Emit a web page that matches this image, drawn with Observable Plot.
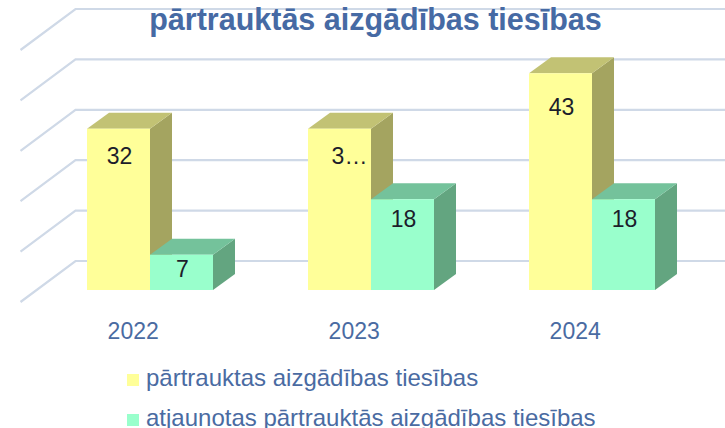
<!DOCTYPE html>
<html>
<head>
<meta charset="utf-8">
<script src="https://cdn.jsdelivr.net/npm/d3@7"></script>
<script src="https://cdn.jsdelivr.net/npm/@observablehq/plot@0.6"></script>
<style>
  body { margin: 0; background: #fff; font-family: "Liberation Sans", Arial, sans-serif; }
  #wrap { position: relative; width: 725px; height: 428px; overflow: hidden; background: #fff; }
  #chart { position: absolute; left: 0; top: 0; }
  #title { position: absolute; left: 0; width: 751px; top: 4px; text-align: center;
           font: bold 30.5px "Liberation Sans", Arial, sans-serif; line-height: 30px; color: #466aa4; white-space: nowrap; }
  .lg { position: absolute; left: 127px; font: 24px "Liberation Sans", Arial, sans-serif; line-height: 24px;
        color: #4a6ba2; white-space: nowrap; display: flex; align-items: center; }
  .sw { width: 12px; height: 12px; margin-right: 7px; margin-top: 3px; }
</style>
</head>
<body>
<div id="wrap">
  <div id="chart"></div>
  <div id="title"></div>
  <div id="legend"></div>
</div>
<script>
// ---- data ----
const years = ["2022", "2023", "2024"];
const seriesNames = ["pārtrauktas aizgādības tiesības", "atjaunotas pārtrauktās aizgādības tiesības"];
const interrupted = [32, 32, 43];
const restored = [7, 18, 18];
const interruptedLabels = ["32", "3…", "43"];
const restoredLabels = ["7", "18", "18"];
const gridTicks = [0, 10, 20, 30, 40, 50];
const titleText = "pārtrauktās aizgādības tiesības";

// ---- styles ----
const frontColors = ["#ffff99", "#99ffcc"];
const topColors = ["#c2c274", "#74c29b"];
const sideColors = ["#a4a460", "#63a580"];
const gridColor = "#cfd9e7";
const depthX = 22, depthY = 16;        // bar 3D depth (px)
const wallDX = 55, wallDY = 41, wallShift = 29; // back wall geometry (px)

const rows = years.flatMap((year, i) => [
  {year, s: 0, value: interrupted[i], label: interruptedLabels[i]},
  {year, s: 1, value: restored[i], label: restoredLabels[i]}
]);

const W = 725, H = 345;

function bars3d(index, scales, values, dims) {
  const x = scales.x, y = scales.y;
  const bw = x.bandwidth();
  const half = bw / 2;
  const g = d3.create("svg:g");
  const y0 = y(0);
  // back wall grid
  for (const t of gridTicks) {
    const yb = y(t) - wallShift;
    const xl = dims.marginLeft + 1;
    g.append("path")
      .attr("d", `M${xl},${yb + wallDY}L${xl + wallDX},${yb}L${dims.width},${yb}`)
      .attr("fill", "none").attr("stroke", gridColor).attr("stroke-width", 2.2);
  }
  // bars
  for (const d of rows) {
    const x0 = x(d.year) + d.s * half, x1 = x0 + half, yv = y(d.value);
    g.append("path").attr("fill", sideColors[d.s])
      .attr("d", `M${x1},${y0}L${x1},${yv}L${x1 + depthX},${yv - depthY}L${x1 + depthX},${y0 - depthY}Z`);
    g.append("path").attr("fill", topColors[d.s])
      .attr("d", `M${x0},${yv}L${x1},${yv}L${x1 + depthX},${yv - depthY}L${x0 + depthX},${yv - depthY}Z`);
    g.append("rect").attr("fill", frontColors[d.s])
      .attr("x", x0).attr("y", yv).attr("width", x1 - x0).attr("height", y0 - yv);
  }
  // data labels (truncated labels sit a little further right, as in the source)
  for (const d of rows) {
    const x0 = x(d.year) + d.s * half, yv = y(d.value);
    const off = 10 + 0.11 * (y0 - yv);
    const shift = d.label.includes("…") ? 10 : 1;
    g.append("text")
      .attr("x", x0 + half / 2 + shift).attr("y", yv + off)
      .attr("text-anchor", "middle").attr("dominant-baseline", "central")
      .attr("fill", "#1c1d2b").attr("font-size", 23)
      .attr("font-family", "Liberation Sans, Arial, sans-serif")
      .text(d.label);
  }
  return g.node();
}

const chart = Plot.plot({
  width: W,
  height: H,
  marginLeft: 19.5,
  marginRight: 2.5,
  marginTop: 38,
  marginBottom: H - 290,
  style: {background: "transparent", fontFamily: "Liberation Sans, Arial, sans-serif", overflow: "visible"},
  x: {type: "band", domain: years, paddingInner: 0.43, paddingOuter: 0.3, axis: null},
  y: {domain: [0, 50], axis: null},
  marks: [
    bars3d,
    Plot.text(years, {x: d => d, frameAnchor: "bottom", lineAnchor: "middle", dy: 41, dx: -17.3, fontSize: 23, fill: "#4a6ba2", text: d => d})
  ]
});
document.getElementById("chart").appendChild(chart);
document.getElementById("title").textContent = titleText;

const legend = document.getElementById("legend");
seriesNames.forEach((name, i) => {
  const row = document.createElement("div");
  row.className = "lg";
  row.style.top = (366 + 40 * i) + "px";
  const sw = document.createElement("span");
  sw.className = "sw";
  sw.style.background = frontColors[i];
  const tx = document.createElement("span");
  tx.textContent = name;
  row.appendChild(sw); row.appendChild(tx);
  legend.appendChild(row);
});
</script>
</body>
</html>
